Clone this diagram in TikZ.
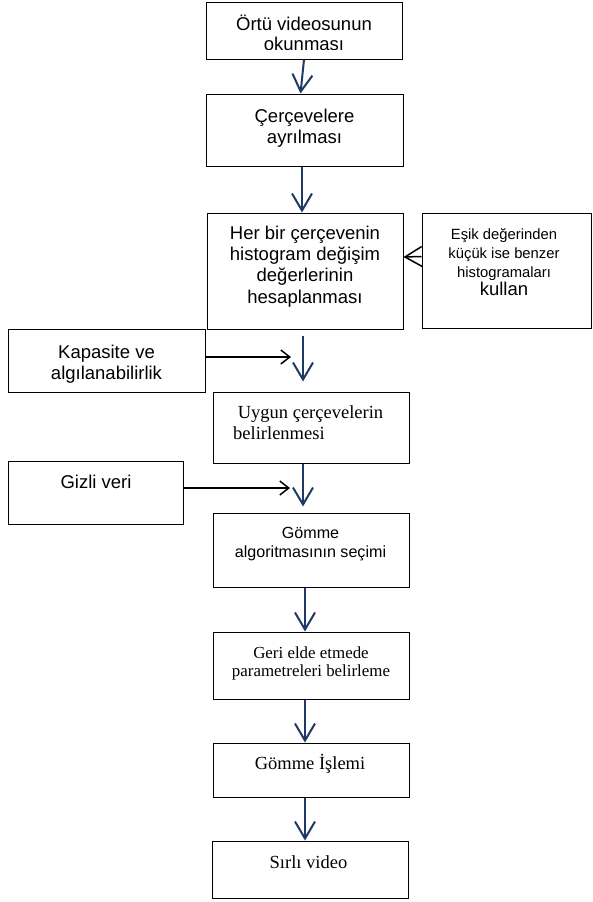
\documentclass[tikz,border=0pt]{standalone}
\usepackage{fontspec}
\setmainfont{Liberation Sans}
\newfontfamily\timesfont{Liberation Serif}
\usetikzlibrary{arrows.meta}

\definecolor{flowblue}{RGB}{31,56,100}

\tikzset{
  box/.style={draw, line width=1pt, rectangle, inner sep=0pt},
  flow/.style={draw=flowblue, line width=2pt, -{Straight Barb[length=17pt,width=20pt]}},
  feed/.style={draw=black, line width=1.5pt, -{Straight Barb[length=9pt,width=14pt]}},
  feedwide/.style={draw=black, line width=1.5pt, -{Straight Barb[length=17pt,width=20pt]}},
  lbl/.style={anchor=base, inner sep=0pt, align=center},
  sansbig/.style={font=\fontsize{18.5}{21}\selectfont},
  sanssmall/.style={font=\fontsize{16.1}{19}\selectfont},
  serifbig/.style={font=\timesfont\fontsize{18.5}{21}\selectfont},
  serifsmall/.style={font=\timesfont\fontsize{16.9}{18}\selectfont},
}

\begin{document}
\begin{tikzpicture}[x=1pt,y=1pt,yscale=-1,xscale=1]
\useasboundingbox (0,0) rectangle (592,902);

%Boxes
\node[box, minimum width=196pt, minimum height=57pt] (okuma) at (304,30.5) {};
\node[box, minimum width=197pt, minimum height=72pt] (ayirma) at (304.5,130) {};
\node[box, minimum width=196pt, minimum height=116pt] (histo) at (305,271) {};
\node[box, minimum width=169pt, minimum height=115pt] (esik) at (506.5,270.5) {};
\node[box, minimum width=197pt, minimum height=63pt] (kapasite) at (106.5,360.5) {};
\node[box, minimum width=196pt, minimum height=71pt] (uygun) at (311,427.5) {};
\node[box, minimum width=175pt, minimum height=63pt] (gizli) at (95.5,492.5) {};
\node[box, minimum width=196pt, minimum height=74pt] (secim) at (311,550) {};
\node[box, minimum width=196pt, minimum height=67pt] (param) at (311,665.5) {};
\node[box, minimum width=196pt, minimum height=54pt] (gomme) at (311,770) {};
\node[box, minimum width=196pt, minimum height=57pt] (sirli) at (310,869.5) {};

%Main flow
\draw[flow] (okuma.south) -- ([xshift=-4pt]ayirma.north);
\draw[flow] ([xshift=-2.5pt]ayirma.south) -- ([xshift=-3pt]histo.north);
\draw[flow, shorten <=6pt, shorten >=10pt] ([xshift=-2pt]histo.south) -- ([xshift=-8pt]uygun.north);
\draw[flow, shorten >=6pt] ([xshift=-8pt]uygun.south) -- ([xshift=-8pt]secim.north);
\draw[flow] ([xshift=-6pt]secim.south) -- ([xshift=-6pt]param.north);
\draw[flow] ([xshift=-6pt]param.south) -- ([xshift=-6pt]gomme.north);
\draw[flow] ([xshift=-6pt]gomme.south) -- ([xshift=-5pt]sirli.north);

%Side inputs
\coordinate (kapasiteUc) at (291,357);
\coordinate (gizliUc) at (290,488);
\draw[feed] ([yshift=-3.5pt]kapasite.east) -- (kapasiteUc);
\draw[feed] ([yshift=-4.5pt]gizli.east) -- (gizliUc);
\draw[feedwide] ([yshift=-14pt]esik.west) -- ([yshift=-14pt]histo.east);

% Text Node
\begin{scope}
\clip (206,0) rectangle (402,49);
\node[lbl, font=\fontsize{18.5}{20.5}\selectfont] (okumaY) at (304,50.5) {Örtü videosunun\\okunması};
\end{scope}
% Text Node
\node[lbl, sansbig] (ayirmaY) at (304.5,143) {Çerçevelere\\ayrılması};
% Text Node
\node[lbl, font=\fontsize{18.5}{21.3}\selectfont] (histoY) at (305,303) {Her bir çerçevenin\\histogram değişim\\değerlerinin\\hesaplanması};
% Text Node
\node[lbl, font=\fontsize{14.8}{19.3}\selectfont] (esikY) at (504,295) {Eşik değerinden\\küçük ise benzer\\histogramaları\\[-2pt]{\fontsize{18.5}{19.3}\selectfont kullan}};
% Text Node
\node[lbl, sansbig] (kapasiteY) at (106.5,379) {Kapasite ve\\algılanabilirlik};
% Text Node
\node[lbl, serifbig, anchor=base west, align=left] (uygunY) at (233,439) {\hspace*{0.25em}Uygun çerçevelerin\\belirlenmesi};
% Text Node
\node[lbl, sansbig] (gizliY) at (96,488) {Gizli veri};
% Text Node
\node[lbl, sanssmall] (secimY) at (310.5,557) {Gömme\\algoritmasının seçimi};
% Text Node
\node[lbl, serifsmall] (paramY) at (311,676) {Geri elde etmede\\parametreleri belirleme};
% Text Node
\node[lbl, serifbig] (gommeY) at (310,769) {Gömme İşlemi};
% Text Node
\node[lbl, serifbig] (sirliY) at (308.5,868) {Sırlı video};

\end{tikzpicture}
\end{document}
